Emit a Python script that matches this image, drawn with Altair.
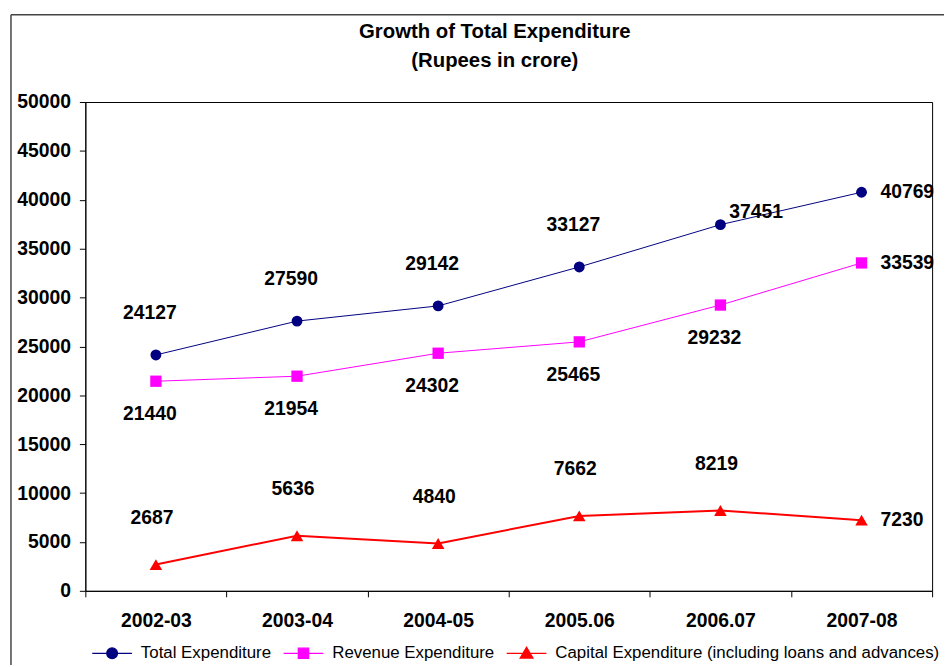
import altair as alt
import pandas as pd

years = ["2002-03", "2003-04", "2004-05", "2005.06", "2006.07", "2007-08"]
total = [24127, 27590, 29142, 33127, 37451, 40769]
revenue = [21440, 21954, 24302, 25465, 29232, 33539]
capital = [2687, 5636, 4840, 7662, 8219, 7230]
series_names = ["Total Expenditure", "Revenue Expenditure",
                "Capital Expenditure (including loans and advances)"]
series_colors = ["#000080", "#FF00FF", "#FF0000"]
y_ticks = list(range(0, 50001, 5000))

# label placement keywords (style only)
total_place = ["above", "above", "above", "above", "upright", "right"]
revenue_place = ["below", "below", "below", "below", "below", "right"]
capital_place = ["above", "above", "above", "above", "above", "right"]

FONT = "Liberation Sans"
NUM = 19.5

rows = []
for name, vals, places in zip(series_names, [total, revenue, capital],
                              [total_place, revenue_place, capital_place]):
    for yr, v, p in zip(years, vals, places):
        rows.append({"year": yr, "value": v, "series": name, "place": p})
df = pd.DataFrame(rows)

xenc = alt.X("year:O", sort=years, bandPosition=0.5,
             scale=alt.Scale(type="band", paddingInner=0, paddingOuter=0),
             axis=alt.Axis(title=None, tickBand="extent", labelAngle=0, grid=False,
                           labelFont=FONT, labelFontWeight="bold", labelFontSize=NUM,
                           labelColor="black", domainColor="black", tickColor="black",
                           tickSize=6, labelPadding=15))
yenc = alt.Y("value:Q", scale=alt.Scale(domain=[0, 50000], nice=False),
             axis=alt.Axis(title=None, values=y_ticks, grid=False, labelFlush=False,
                           format="d",
                           labelFont=FONT, labelFontWeight="bold", labelFontSize=NUM,
                           labelColor="black", domainColor="black", tickColor="black",
                           tickSize=6, labelPadding=9))

base = alt.Chart(df)

shapes = ["circle", "square", "triangle-up"]
sizes = [120, 130, 160]
widths = [1, 1, 2]
offsets = {
    "Total Expenditure": {"above": (-6, -42), "upright": (36, -13)},
    "Revenue Expenditure": {"below": (-6, 33)},
    "Capital Expenditure (including loans and advances)": {"above": (-4, -47)},
}

layers = []
# decorative chart-area border (left and top edges)
one = alt.Chart(pd.DataFrame({"k": [0]}))
layers.append(one.mark_rule(color="#444444", strokeWidth=1.5).encode(
    x=alt.value(-75), y=alt.value(-88), y2=alt.value(600)))
layers.append(one.mark_rule(color="#444444", strokeWidth=1.5).encode(
    x=alt.value(-75), x2=alt.value(900), y=alt.value(-88)))

for name, col, shp, sz, w in zip(series_names, series_colors, shapes, sizes, widths):
    sub = base.transform_filter(alt.datum.series == name)
    layers.append(sub.mark_line(color=col, strokeWidth=w).encode(x=xenc, y=yenc))
    layers.append(sub.mark_point(shape=shp, filled=True, size=sz, color=col, opacity=1)
                  .encode(x=xenc, y=yenc))
    for place, (dx, dy) in offsets[name].items():
        layers.append(sub.transform_filter(alt.datum.place == place)
                      .mark_text(font=FONT, fontWeight="bold", fontSize=NUM, color="black",
                                 dx=dx, dy=dy, baseline="middle")
                      .encode(x=xenc, y=yenc, text="value:Q"))
    layers.append(sub.transform_filter(alt.datum.place == "right")
                  .mark_text(font=FONT, fontWeight="bold", fontSize=NUM, color="black",
                             dx=19, dy=0, align="left", baseline="middle")
                  .encode(x=xenc, y=yenc, text="value:Q"))

# legend carrier layer (invisible marks; legend symbols show line + marker)
paths = [
    "M-1,0H1M0.27,0A0.27,0.27,0,1,1,-0.27,0A0.27,0.27,0,1,1,0.27,0Z",
    "M-1,0H1M-0.26,-0.26H0.26V0.26H-0.26Z",
    "M-1,0H1M0,-0.3L0.32,0.24L-0.32,0.24Z",
]
leg = alt.Legend(title=None, orient="none", legendX=6, legendY=535, direction="horizontal",
                 labelFont=FONT, labelFontSize=17, labelColor="black", symbolSize=1600,
                 symbolStrokeWidth=1.3, symbolOpacity=1, columnPadding=9, labelOffset=8,
                 labelLimit=600, padding=0)
layers.append(base.mark_point(filled=True, opacity=0, strokeWidth=1.3).encode(
    x=xenc, y=yenc,
    color=alt.Color("series:N", scale=alt.Scale(domain=series_names, range=series_colors), legend=leg),
    stroke=alt.Stroke("series:N", scale=alt.Scale(domain=series_names, range=series_colors), legend=leg),
    shape=alt.Shape("series:N", scale=alt.Scale(domain=series_names, range=paths), legend=leg),
))

chart = alt.layer(*layers).properties(
    width=854, height=493,
    autosize=alt.AutoSizeParams(type="none"),
    padding={"left": 78, "top": 92, "right": 12, "bottom": 72},
    title=alt.TitleParams(text=["Growth of Total Expenditure", "(Rupees in crore)"],
                          font=FONT, fontSize=20.5, fontWeight="bold", lineHeight=29,
                          anchor="middle", dx=-14, offset=-58, color="black"),
).configure_view(stroke="black", strokeWidth=1)

chart.save("out.html", embed_options={"renderer": "svg", "actions": False})
